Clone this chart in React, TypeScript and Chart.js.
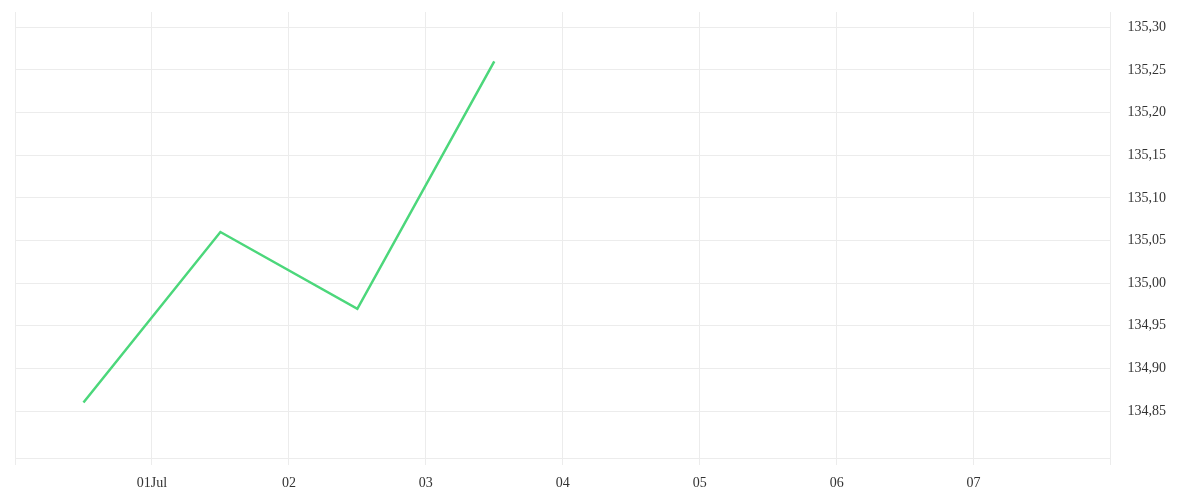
import React, { useEffect, useRef } from "react";
import { Chart, registerables } from "chart.js";

Chart.register(...registerables);

// Days counted from 30 Jun 00:00; points sit at midday
const pointDays: number[] = [0.5, 1.5, 2.5, 3.5];
const prices: number[] = [134.86, 135.06, 134.97, 135.26];

const xTickDays: number[] = [1, 2, 3, 4, 5, 6, 7];
const xTickLabels: string[] = ["01Jul", "02", "03", "04", "05", "06", "07"];
const yTickValues: number[] = [134.85, 134.9, 134.95, 135.0, 135.05, 135.1, 135.15, 135.2, 135.25, 135.3];

const X_MIN = 0;
const X_MAX = 8;
const Y_MIN = 134.795;
const Y_MAX = 135.318;

const FONT = "'Liberation Serif', serif";
const GRID = "#ececec";
const TEXT = "#333333";

export default function App() {
  const ref = useRef<HTMLCanvasElement | null>(null);

  useEffect(() => {
    if (!ref.current) return;
    const chart = new Chart(ref.current, {
      type: "line",
      data: {
        datasets: [
          {
            data: pointDays.map((d, i) => ({ x: d, y: prices[i] })),
            borderColor: "#4cd77b",
            borderWidth: 2.5,
            pointRadius: 0,
            tension: 0,
            fill: false,
          },
        ],
      },
      options: {
        animation: false,
        responsive: true,
        maintainAspectRatio: false,
        layout: { padding: { top: 12, left: 15, right: 31, bottom: 8 } },
        plugins: { legend: { display: false }, tooltip: { enabled: false } },
        scales: {
          x: {
            type: "linear",
            min: X_MIN,
            max: X_MAX,
            afterBuildTicks: (axis: any) => {
              axis.ticks = [X_MIN, ...xTickDays, X_MAX].map((v) => ({ value: v }));
            },
            afterFit: (axis: any) => {
              axis.height = 34;
            },
            grid: { color: GRID, lineWidth: 1, tickLength: 7, drawTicks: true },
            border: { display: true, color: GRID },
            ticks: {
              padding: 10,
              maxRotation: 0,
              autoSkip: false,
              color: TEXT,
              font: { family: FONT, size: 14 },
              callback: (v: any) => {
                const i = xTickDays.indexOf(Number(v));
                return i >= 0 ? xTickLabels[i] : "";
              },
            },
          },
          y: {
            type: "linear",
            position: "right",
            min: Y_MIN,
            max: Y_MAX,
            afterBuildTicks: (axis: any) => {
              axis.ticks = yTickValues.map((v) => ({ value: v }));
            },
            grid: { color: GRID, lineWidth: 1, drawTicks: true, tickLength: 14, tickColor: "rgba(0,0,0,0)" },
            border: { display: false },
            ticks: {
              padding: 3,
              color: TEXT,
              font: { family: FONT, size: 14 },
              callback: (v: any) => Number(v).toFixed(2).replace(".", ","),
            },
          },
        },
      },
    });
    return () => chart.destroy();
  }, []);

  return (
    <div style={{ position: "fixed", left: 0, top: 0, width: 1200, height: 500, background: "#fff" }}>
      <canvas ref={ref} />
    </div>
  );
}
